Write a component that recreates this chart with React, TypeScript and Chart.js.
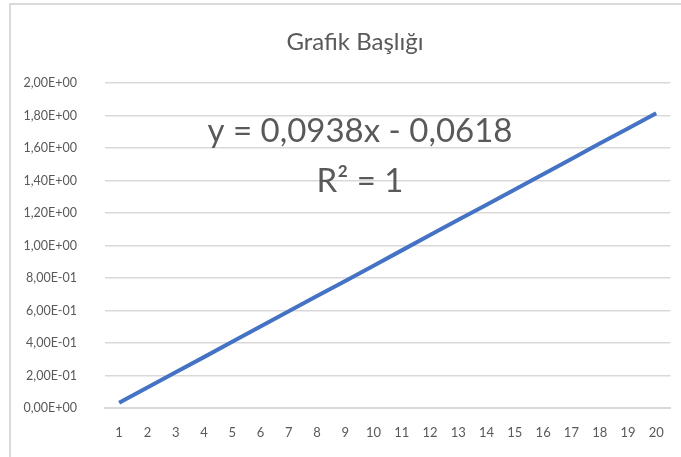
import React, { useEffect, useRef } from "react";
import { Chart, registerables } from "chart.js";

Chart.register(...registerables);

const categories = ["1","2","3","4","5","6","7","8","9","10","11","12","13","14","15","16","17","18","19","20"];
const seriesValues = [0.032, 0.126, 0.220, 0.313, 0.407, 0.501, 0.595, 0.689, 0.782, 0.876, 0.970, 1.064, 1.158, 1.251, 1.345, 1.439, 1.533, 1.627, 1.720, 1.814];
const titleText = "Grafik Başlığı";
const equationText = "y = 0,0938x - 0,0618";
const r2Text = "R² = 1";
const yMin = 0;
const yMax = 2;
const yStep = 0.2;

const TEXT = "#595959";
const GRID = "#d9d9d9";
const LINE = "#4472C4";
const FONT = "Lato, 'Noto Sans', sans-serif";

function sci(v: number): string {
  if (Math.abs(v) < 1e-12) return "0,00E+00";
  let e = Math.floor(Math.log10(Math.abs(v)) + 1e-9);
  let m = v / Math.pow(10, e);
  let ms = m.toFixed(2);
  if (Math.abs(parseFloat(ms)) >= 10) { e += 1; ms = (v / Math.pow(10, e)).toFixed(2); }
  const sign = e < 0 ? "-" : "+";
  const ea = Math.abs(e).toString().padStart(2, "0");
  return ms.replace(".", ",") + "E" + sign + ea;
}

const textPlugin = {
  id: "textLabels",
  afterDraw(chart: any) {
    const ctx = chart.ctx;
    ctx.save();
    ctx.fillStyle = TEXT;
    ctx.textAlign = "center";
    ctx.textBaseline = "middle";
    ctx.font = "24px " + FONT;
    ctx.fillText(titleText, 355, 42);
    ctx.font = "33px " + FONT;
    ctx.fillText(equationText, 360, 131);
    ctx.fillText(r2Text, 360, 181);
    ctx.restore();
  },
};

export default function App() {
  const ref = useRef<HTMLCanvasElement | null>(null);
  useEffect(() => {
    if (!ref.current) return;
    const chart = new Chart(ref.current, {
      type: "line",
      data: {
        labels: categories,
        datasets: [
          {
            data: seriesValues,
            borderColor: LINE,
            borderWidth: 4,
            pointRadius: 0,
            fill: false,
            tension: 0,
          },
        ],
      },
      options: {
        animation: false,
        responsive: false,
        maintainAspectRatio: false,
        layout: { padding: { left: 0, right: 10, top: 83, bottom: 9 } },
        plugins: {
          legend: { display: false },
          tooltip: { enabled: false },
          title: { display: false },
        },
        scales: {
          x: {
            type: "category",
            offset: true,
            grid: { display: false, drawTicks: false },
            border: { display: true, color: GRID, width: 2 },
            ticks: { color: TEXT, font: { family: FONT, size: 13 }, padding: 17, maxRotation: 0, autoSkip: false },
            afterFit(scale: any) { scale.height = 40; },
          },
          y: {
            min: yMin,
            max: yMax,
            grid: { color: GRID, lineWidth: 1.5, drawTicks: false },
            border: { display: false },
            ticks: {
              stepSize: yStep,
              color: TEXT,
              font: { family: FONT, size: 12.5 },
              padding: 28,
              callback: (v: any) => sci(Number(v)),
            },
            afterFit(scale: any) { scale.width = 105; },
          },
        },
      },
      plugins: [textPlugin],
    });
    return () => chart.destroy();
  }, []);
  return (
    <div style={{ position: "fixed", left: 0, top: 0, width: 681, height: 457, background: "#fff" }}>
      <canvas ref={ref} width={681} height={457} style={{ position: "absolute", left: 0, top: 0 }} />
      <div style={{ position: "absolute", left: 9, top: 3, right: 0, bottom: 0, borderLeft: "2px solid #d9d9d9", borderTop: "2px solid #d9d9d9", pointerEvents: "none" }} />
    </div>
  );
}
